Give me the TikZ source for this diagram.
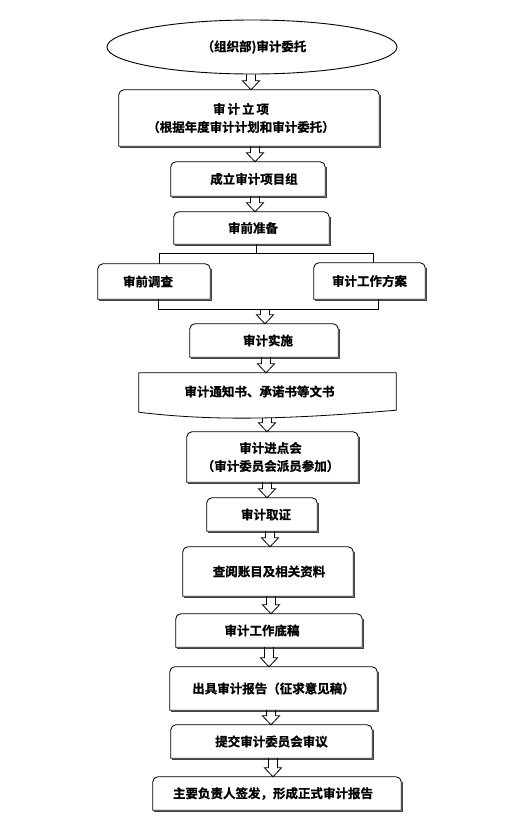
\documentclass[tikz,border=0pt]{standalone}
\usepackage{fontspec}
\setmainfont{Noto Sans CJK SC}[BoldFont={Noto Sans CJK SC Bold}, BoldFeatures={FakeBold=0.8}]
\usetikzlibrary{calc,shapes.geometric}
\pgfdeclarelayer{bg}
\pgfsetlayers{bg,main}
\tikzset{
  x=1pt,y=1pt,
  txt/.style={font=\fontsize{12.5}{18}\selectfont\bfseries},
  box/.style n args={2}{txt, minimum width=#1, minimum height=#2, inner sep=0pt, align=center},
  boxline/.style={draw=black, line width=0.8pt, fill=white},
  shadowline/.style={draw=black!75, line width=1pt},
  conn/.style={draw=black, line width=0.8pt},
  barrowline/.style={draw=black, line width=0.8pt, line join=miter},
}
\newcommand\tboxline[1]{%
  \begin{pgfonlayer}{bg}
  \draw[boxline] (#1.south west) -- ([yshift=-5pt]#1.north west)
     arc[start angle=180,end angle=90,radius=5pt] -- ([xshift=-5pt]#1.north east)
     arc[start angle=90,end angle=0,radius=5pt] -- (#1.south east) -- cycle;
  \draw[shadowline] ([xshift=0.9pt,yshift=-5pt]#1.north east) -- ([xshift=0.9pt,yshift=-0.9pt]#1.south east) -- ([xshift=0.9pt,yshift=-0.9pt]#1.south west);
  \end{pgfonlayer}}
\newcommand\barrow[3]{%
  \draw[barrowline] let \p1=(#2), \p2=(#3) in
    (#1-4.5,\y1) -- (#1-4.5,\y2+9) -- (#1-8.5,\y2+9) -- (#1,\y2) -- (#1+8.5,\y2+9) -- (#1+4.5,\y2+9) -- (#1+4.5,\y1);}
\newcommand\sh[2]{\hspace*{#1}#2\hspace*{-#1}}
\begin{document}
\begin{tikzpicture}
\useasboundingbox (0,0) rectangle (511,-823);

% start ellipse
\node[ellipse, draw, line width=0.9pt, minimum width=290pt, minimum height=54pt, inner sep=0pt, txt] (start) at (252,-47) {\sh{2pt}{（组织部)审计委托}};

\node[box={260pt}{56pt}] (lixiang) at (249,-118) {\sh{-8pt}{审\hspace{2pt}计\hspace{2pt}立\hspace{2pt}项}\\\sh{-8pt}{（根据年度审计计划和审计委托）}};
\node[box={154pt}{34pt}] (group) at (248,-179) {\sh{6pt}{成立审计项目组}};
\node[box={155pt}{32pt}] (prep) at (251.5,-228) {\sh{1.5pt}{\raisebox{-3pt}{审前准备}}};
\node[box={112pt}{35pt}] (inv) at (154,-281.5) {\sh{-6pt}{审前调查}};
\node[box={111pt}{36pt}] (plan) at (369.5,-281) {审计工作方案};
\node[box={148pt}{33pt}] (impl) at (264,-340.5) {\sh{4pt}{审计实施}};
\node[box={257pt}{37pt}] (doc) at (267.5,-391.5) {\sh{-8pt}{审计通知书、承诺书等文书}};
\node[box={171pt}{50pt}] (meet) at (272.5,-457) {\sh{-2pt}{审计进点会}\\\sh{-2pt}{（审计委员会派员参加）}};
\node[box={110pt}{33pt}] (evid) at (262,-514.5) {\sh{4pt}{审计取证}};
\node[box={170pt}{49pt}] (check) at (268,-571.5) {\sh{1pt}{查阅账目及相关资料}};
\node[box={186pt}{33pt}] (paper) at (269,-630.5) {\sh{-7pt}{审计工作底稿}};
\node[box={207pt}{43pt}] (report) at (273.5,-688.5) {出具审计报告（征求意见稿）};
\node[box={201pt}{33pt}] (submit) at (271.5,-741.5) {提交审计委员会审议};
\node[box={248pt}{33pt}] (final) at (277,-793.5) {\sh{-4pt}{主要负责人签发，形成正式审计报告}};

\tboxline{lixiang}
\tboxline{group}
\tboxline{prep}
\tboxline{inv}
\tboxline{plan}
\tboxline{impl}
\tboxline{meet}
\tboxline{evid}
\tboxline{check}
\tboxline{paper}
\tboxline{report}
\tboxline{submit}
\tboxline{final}

% document shape
\begin{pgfonlayer}{bg}
\draw[boxline] (doc.south west) -- (doc.north west) -- (doc.north east) -- (doc.south east)
  .. controls ($(doc.south east)+(-96,-8)$) and ($(doc.south west)+(81,-12)$) .. ([yshift=-2pt]doc.south west)
  coordinate[pos=0.48] (docw) -- cycle;
\end{pgfonlayer}

% branch connectors
\coordinate (bj) at (256,-253);
\coordinate (bl) at (159,-253);
\coordinate (br) at (373,-253);
\coordinate (jl) at (158,-309);
\coordinate (jr) at (378,-309);
\coordinate (jm) at (265,-309);
\draw[conn] (prep.south -| bj) -- (bj);
\draw[conn] (inv.north -| bl) -- (bl) -- (br) -- (plan.north -| br);
\draw[conn] (inv.south -| jl) -- (jl) -- (jr) -- (plan.south -| jr);

% block arrows
\barrow{251}{start.south}{lixiang.north}
\barrow{255}{lixiang.south}{group.north}
\barrow{255}{group.south}{prep.north}
\barrow{265}{jm}{impl.north}
\barrow{266}{impl.south}{doc.north}
\barrow{267}{docw}{meet.north}
\barrow{267}{meet.south}{evid.north}
\barrow{270}{evid.south}{check.north}
\barrow{271}{check.south}{paper.north}
\barrow{269}{paper.south}{report.north}
\barrow{271}{report.south}{submit.north}
\barrow{273}{submit.south}{final.north}
\end{tikzpicture}
\end{document}
